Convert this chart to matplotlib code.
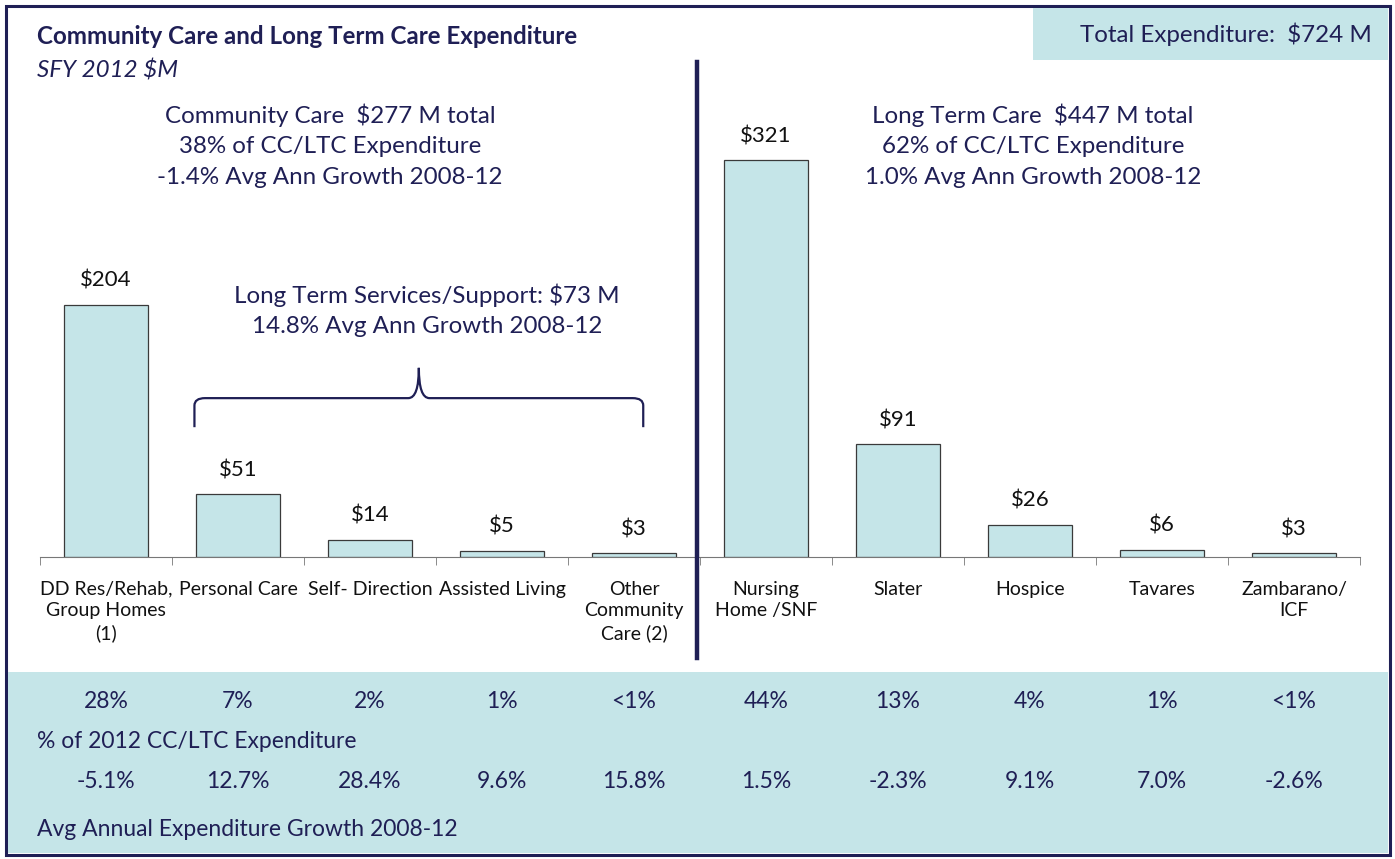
import matplotlib
matplotlib.use("Agg")
import matplotlib.pyplot as plt
from matplotlib.lines import Line2D
from matplotlib.patches import Rectangle
from matplotlib.path import Path
from matplotlib.patches import PathPatch
from matplotlib.transforms import blended_transform_factory

# ---------------------------------------------------------------------------
# Data
# ---------------------------------------------------------------------------
categories = [
    "DD Res/Rehab,\nGroup Homes\n(1)", "Personal Care", "Self- Direction",
    "Assisted Living", "Other\nCommunity\nCare (2)", "Nursing\nHome /SNF",
    "Slater", "Hospice", "Tavares", "Zambarano/\nICF",
]
spend_m = [204, 51, 14, 5, 3, 321, 91, 26, 6, 3]
share_labels = ["28%", "7%", "2%", "1%", "<1%", "44%", "13%", "4%", "1%", "<1%"]
growth_labels = ["-5.1%", "12.7%", "28.4%", "9.6%", "15.8%",
                 "1.5%", "-2.3%", "9.1%", "7.0%", "-2.6%"]

cc_lines = ["Community Care  $277 M total", "38% of CC/LTC Expenditure",
            "-1.4% Avg Ann Growth 2008-12"]
ltc_lines = ["Long Term Care  $447 M total", "62% of CC/LTC Expenditure",
             "1.0% Avg Ann Growth 2008-12"]
ltss_lines = ["Long Term Services/Support: $73 M", "14.8% Avg Ann Growth 2008-12"]

NAVY = "#1f1f55"
TEAL = "#c5e5e8"
W, H = 1395, 859
BIG = 17.4

plt.rcParams["text.parse_math"] = False
plt.rcParams["font.family"] = ["Lato", "DejaVu Sans"]


def fx(x):
    return x / W


def fy(y):
    return 1 - y / H


fig = plt.figure(figsize=(W / 100, H / 100), dpi=100)

# outer frame, bottom panel and total box
fig.patches.append(Rectangle((fx(6), fy(855)), fx(1384), 849 / H, transform=fig.transFigure,
                             fill=False, ec=NAVY, lw=2.2, zorder=0))
fig.patches.append(Rectangle((fx(8), fy(853)), fx(1380), 181 / H, transform=fig.transFigure,
                             fc=TEAL, ec="none", zorder=0))
fig.patches.append(Rectangle((fx(1033), fy(60)), fx(355), 52 / H, transform=fig.transFigure,
                             fc=TEAL, ec="none", zorder=0))

ax = fig.add_axes([fx(40), fy(557), fx(1320), (557 - 60) / H])
ax.set_facecolor("none")
x = list(range(len(categories)))
bars = ax.bar(x, spend_m, width=0.63, color=TEAL, edgecolor="#3a3a3a", linewidth=0.9)
ax.set_xlim(-0.5, len(categories) - 0.5)
ax.set_ylim(0, 402)

for xi, v in zip(x, spend_m):
    ax.annotate(f"${v}", (xi, v), xytext=(0, 10), textcoords="offset points",
                ha="center", va="bottom", fontsize=16, color="#111111")

for s in ["top", "left", "right"]:
    ax.spines[s].set_visible(False)
ax.spines["bottom"].set_color("#777777")
ax.set_yticks([])
ax.set_xticks(x)
ax.set_xticklabels(categories, fontsize=14, color="#111111", linespacing=1.33, va="top")
ax.tick_params(axis="x", which="major", length=0, pad=17)
ax.set_xticks([i - 0.5 for i in range(len(categories) + 1)], minor=True)
ax.tick_params(axis="x", which="minor", length=6, color="#777777", direction="out")

# divider between community and long term care
bt = blended_transform_factory(ax.transData, fig.transFigure)
fig.add_artist(Line2D([4.48, 4.48], [fy(62), fy(658)], transform=bt, color=NAVY, lw=3.2))

# brace over long term services/support
bl, br, peak = 0.67, 4.07, 2.37
yb, yh, yp = 105, 128.5, 153
r = 0.08
verts = [(bl, yb), (bl, yh - 6), (bl, yh), (bl + r, yh),
         (peak - r, yh), (peak, yh), (peak, yp),
         (peak, yh), (peak + r, yh),
         (br - r, yh), (br, yh), (br, yh - 6), (br, yb)]
codes = [Path.MOVETO, Path.LINETO, Path.CURVE3, Path.CURVE3,
         Path.LINETO, Path.CURVE3, Path.CURVE3,
         Path.CURVE3, Path.CURVE3,
         Path.LINETO, Path.CURVE3, Path.CURVE3, Path.LINETO]
ax.add_patch(PathPatch(Path(verts, codes), fill=False, ec=NAVY, lw=1.6, clip_on=False))

# titles
fig.text(fx(37), fy(37), "Community Care and Long Term Care Expenditure", fontsize=BIG,
         fontweight="bold", color=NAVY, va="center")
fig.text(fx(37), fy(70), "SFY 2012 $M", fontsize=BIG, style="italic", color=NAVY, va="center")
fig.text(fx(1372), fy(34), "Total Expenditure:  $724 M", fontsize=BIG, color=NAVY,
         va="center", ha="right")

for i, line in enumerate(cc_lines):
    fig.text(fx(330), fy(115 + 31.5 * i), line, fontsize=BIG, color=NAVY, ha="center", va="center")
for i, line in enumerate(ltc_lines):
    fig.text(fx(1033), fy(115 + 31.5 * i), line, fontsize=BIG, color=NAVY, ha="center", va="center")
for i, line in enumerate(ltss_lines):
    fig.text(fx(427), fy(295 + 31.5 * i), line, fontsize=BIG, color=NAVY, ha="center", va="center")

# bottom table
for xi, s, g in zip(x, share_labels, growth_labels):
    fig.text(xi, fy(701), s, transform=bt, fontsize=16.5, color=NAVY, ha="center", va="center")
    fig.text(xi, fy(782), g, transform=bt, fontsize=16.5, color=NAVY, ha="center", va="center")
fig.text(fx(37), fy(741), "% of 2012 CC/LTC Expenditure", fontsize=16.5, color=NAVY, va="center")
fig.text(fx(37), fy(829), "Avg Annual Expenditure Growth 2008-12", fontsize=16.5, color=NAVY,
         va="center")

fig.savefig("out.png", dpi=100)
